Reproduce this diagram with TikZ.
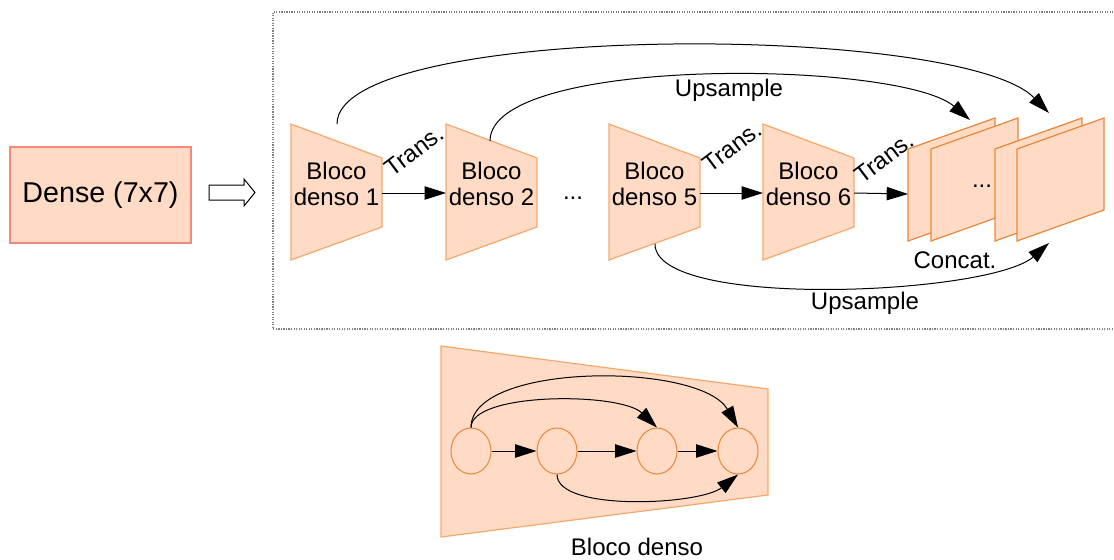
\documentclass[tikz,border=0pt]{standalone}
\usepackage{fontspec}
\setmainfont{Liberation Sans}
\usetikzlibrary{arrows.meta,shapes.geometric}
\definecolor{pessego}{RGB}{255,219,197}
\definecolor{laranja}{RGB}{245,168,108}
\definecolor{laranjaesc}{RGB}{232,134,58}
\definecolor{salmao}{RGB}{244,137,122}
\tikzset{
  bloco/.style={fill=pessego,draw=laranja,line width=0.9pt},
  folha/.style={fill=pessego,draw=laranjaesc,line width=0.9pt},
  seta/.style={-{Triangle[length=16pt,width=10pt]},line width=0.75pt},
  rotulo/.style={font=\fontsize{18}{19.5}\selectfont,inner sep=0pt}
}
\begin{document}
\begin{tikzpicture}[x={(0.75pt,0)},y={(0,-0.75pt)}]
  \useasboundingbox (0,0) rectangle (1114,560);
  % entrada
  \node[fill=pessego,draw=salmao,line width=0.9pt,minimum width=135.75pt,minimum height=72pt,
        font=\fontsize{21.5}{24}\selectfont] (dense) at (100.5,195) {Dense (7x7)};
  \draw[line width=0.75pt] (209,185) -- (244,185) -- (244,179) -- (255,192.5)
        -- (244,206) -- (244,200) -- (209,200) -- cycle;
  % moldura
  \draw[gray,densely dotted,line width=0.9pt] (1116,12) -- (273,12) -- (273,329) -- (1116,329);
  % blocos densos
  \foreach \x/\n in {291/1,446/2,609/5,763/6}{
    \draw[bloco] (\x,124) -- (\x+91,158) -- (\x+91,227) -- (\x,260) -- cycle;
    \node[rotulo,align=center] (b\n) at (\x+45.5,184) {Bloco\\denso \n};
    \coordinate (b\n-l) at (\x,193);
    \coordinate (b\n-r) at (\x+91,193);
  }
  \node[rotulo] (pts) at (573,198) {...};
  % mapas concatenados
  \foreach \x/\s in {908/a,931/b}
    \draw[folha] (\x,149) -- (\x+87,118) -- (\x+87,210) -- (\x,241) -- cycle;
  \node[rotulo] (pts2) at (982,186) {...};
  \foreach \x/\s in {995/c,1017/d}
    \draw[folha] (\x,149) -- (\x+87,118) -- (\x+87,210) -- (\x,241) -- cycle;
  \coordinate (fa-l) at (908,194);
  \node[rotulo] (concat) at (955,260) {Concat.};
  % transicoes
  \draw[seta] (b1-r) -- (b2-l);
  \draw[seta] (b5-r) -- (b6-l);
  \draw[seta] (b6-r) -- (fa-l);
  \node[rotulo,rotate=37] (t1) at (414,151) {Trans.};
  \node[rotulo,rotate=37] (t2) at (732,147) {Trans.};
  \node[rotulo,rotate=37] (t3) at (884,158) {Trans.};
  % upsample
  \coordinate (s1) at (337,124);
  \coordinate (s2) at (490,141);
  \coordinate (s5) at (655,244);
  \coordinate (up1) at (1049,113);
  \coordinate (up2) at (970,120);
  \coordinate (up3) at (1049,243);
  \draw[seta] (s1) .. controls (337,22) and (960,22) .. (up1);
  \draw[seta] (s2) .. controls (490,55) and (900,60) .. (up2);
  \draw[seta] (s5) .. controls (655,310) and (990,295) .. (up3);
  \node[rotulo] (ups1) at (729,90) {Upsample};
  \node[rotulo] (ups2) at (865,303) {Upsample};
  % bloco denso detalhado
  \draw[bloco] (441,346) -- (768,389) -- (768,495) -- (441,537) -- cycle;
  \foreach \x/\c in {471/c1,557/c2,657/c3,738/c4}
    \node[ellipse,draw=laranjaesc,line width=0.75pt,minimum width=30pt,minimum height=34.5pt,
          inner sep=0pt] (\c) at (\x,451) {};
  \draw[seta] (c1) -- (c2);
  \draw[seta] (c2) -- (c3);
  \draw[seta] (c3) -- (c4);
  \draw[seta] (c1.north) .. controls (471,392) and (620,392) .. (c3.north);
  \draw[seta] (c1.north) .. controls (471,362) and (700,362) .. (c4.north);
  \draw[seta] (c2.south) .. controls (557,512) and (700,505) .. (c4.south);
  \node[rotulo] (legenda) at (637,547) {Bloco denso};
\end{tikzpicture}
\end{document}
